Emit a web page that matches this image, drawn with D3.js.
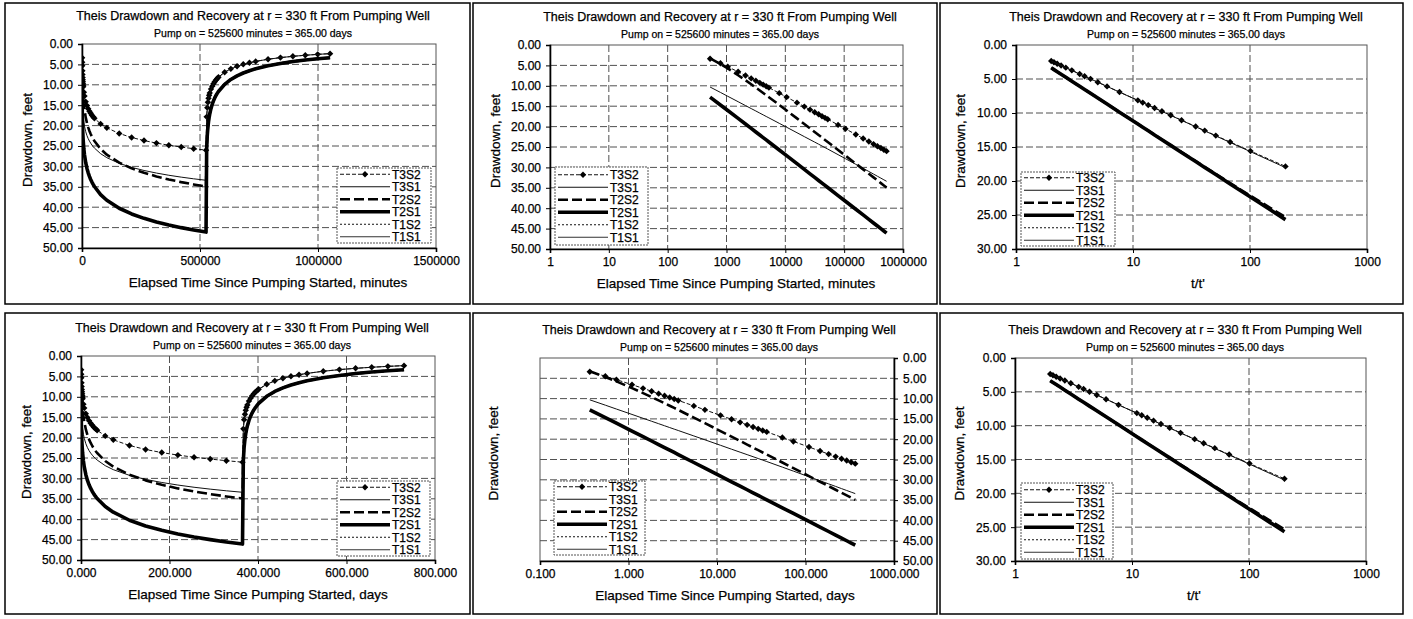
<!DOCTYPE html>
<html><head><meta charset="utf-8">
<script src="https://cdn.jsdelivr.net/npm/d3@7"></script>
<style>
body{margin:0;background:#fff}
svg{display:block}
text{font-family:"Liberation Sans",Arial,sans-serif;fill:#000;stroke:#000;stroke-width:0.25px}
</style>
</head><body>
<svg id="c" width="1413" height="619"></svg>
<script>
// ---------------- data ----------------
const PUMP_MINUTES = 525600;
const titleText = "Theis Drawdown and Recovery at r = 330 ft From Pumping Well";
const subtitleText = "Pump on = 525600 minutes = 365.00 days";
const seriesNames = ["T3S2", "T3S1", "T2S2", "T2S1", "T1S2", "T1S1"];

const pumpMinutes = [525.6, 788.4, 1051.2, 1576.8, 2102.4, 2628, 3153.6, 3679.2, 4204.8, 4730.4, 5256,
  7884, 10512, 15768, 21024, 26280, 31536, 36792, 42048, 47304, 52560, 78840, 105120, 157680,
  210240, 262800, 315360, 367920, 420480, 473040, 525600];
const recoveryMinutes = [528228, 530856, 533484, 536112, 538740, 541368, 546624, 551880, 557136,
  562392, 567648, 572904, 578160, 604440, 630720, 657000, 683280, 709560, 735840, 788400, 840960,
  893520, 946080, 998640, 1051200];

const T3S2_pump = [3.38, 4.49, 5.33, 6.57, 7.47, 8.19, 8.78, 9.28, 9.72, 10.11, 10.45, 11.80, 12.77, 14.13,
  15.10, 15.85, 16.47, 16.99, 17.45, 17.85, 18.20, 19.58, 20.55, 21.93, 22.91, 23.67, 24.29, 24.81, 25.26, 25.66, 26.02];
const T3S2_rec = [17.85, 15.60, 14.27, 13.32, 12.59, 11.99, 11.06, 10.33, 9.75, 9.26, 8.84, 8.47, 8.14,
  6.92, 6.09, 5.47, 4.98, 4.59, 4.26, 3.73, 3.33, 3.02, 2.76, 2.54, 2.36];
const T3S1_pump = [10.30, 11.62, 12.57, 13.90, 14.85, 15.58, 16.18, 16.69, 17.13, 17.52, 17.86, 19.20, 20.15,
  21.50, 22.46, 23.20, 23.80, 24.31, 24.76, 25.15, 25.50, 26.88, 27.86, 29.25, 30.24, 31.00, 31.63, 32.17, 32.63, 33.04, 33.40];
const T3S1_rec = [18.03, 15.69, 14.33, 13.37, 12.63, 12.02, 11.08, 10.35, 9.76, 9.27, 8.85, 8.48, 8.15,
  6.93, 6.09, 5.47, 4.99, 4.59, 4.26, 3.74, 3.34, 3.02, 2.76, 2.54, 2.36];
const T2S2_pump = [3.26, 4.66, 5.75, 7.41, 8.64, 9.63, 10.45, 11.15, 11.76, 12.30, 12.79, 14.69, 16.05, 17.99,
  19.37, 20.44, 21.32, 22.06, 22.70, 23.27, 23.78, 25.74, 27.13, 29.09, 30.49, 31.57, 32.45, 33.20, 33.85, 34.42, 34.93];
const T2S2_rec = [25.32, 22.18, 20.31, 18.97, 17.93, 17.09, 15.75, 14.73, 13.90, 13.20, 12.60, 12.08, 11.61,
  9.87, 8.68, 7.80, 7.11, 6.54, 6.07, 5.33, 4.76, 4.30, 3.93, 3.62, 3.36];
const T2S1_pump = [12.79, 14.69, 16.05, 17.99, 19.37, 20.44, 21.32, 22.06, 22.70, 23.27, 23.78, 25.74, 27.13,
  29.09, 30.49, 31.57, 32.45, 33.20, 33.85, 34.42, 34.93, 36.90, 38.29, 40.26, 41.65, 42.73, 43.62, 44.37, 45.01, 45.58, 46.10];
const T2S1_rec = [25.68, 22.36, 20.43, 19.06, 18.00, 17.14, 15.80, 14.76, 13.93, 13.22, 12.62, 12.10, 11.63,
  9.88, 8.69, 7.81, 7.11, 6.55, 6.08, 5.33, 4.76, 4.30, 3.93, 3.62, 3.36];
const T1S2_pump = [], T1S2_rec = [], T1S1_pump = [], T1S1_rec = [];

const drawdownTicks50 = [0, 5, 10, 15, 20, 25, 30, 35, 40, 45, 50];
const drawdownTicks30 = [0, 5, 10, 15, 20, 25, 30];
const minuteLinTicks = [0, 500000, 1000000, 1500000];
const minuteLogTicks = [1, 10, 100, 1000, 10000, 100000, 1000000];
const ratioTicks = [1, 10, 100, 1000];
const dayLinTicks = [0, 200, 400, 600, 800];
const dayLogTicks = [0.1, 1, 10, 100, 1000];

// ---------------- build tables ----------------
const pumpTable = {T3S2: T3S2_pump, T3S1: T3S1_pump, T2S2: T2S2_pump, T2S1: T2S1_pump, T1S2: T1S2_pump, T1S1: T1S1_pump};
const recTable = {T3S2: T3S2_rec, T3S1: T3S1_rec, T2S2: T2S2_rec, T2S1: T2S1_rec, T1S2: T1S2_rec, T1S1: T1S1_rec};

function seriesPoints(name, mode, unit) {
  const conv = unit === "day" ? (m => m / 1440) : (m => m);
  const p = pumpTable[name].map((v, i) => ({x: conv(pumpMinutes[i]), y: v}));
  const r = recTable[name].map((v, i) => ({x: conv(recoveryMinutes[i]), y: v}));
  if (mode === "all") return p.concat(r);
  if (mode === "pump") return p;
  return recTable[name].map((v, i) => ({x: recoveryMinutes[i] / (recoveryMinutes[i] - PUMP_MINUTES), y: v}))
    .sort((a, b) => a.x - b.x);
}

const styles = {
  T3S2: {w: 1, dash: "4,2", color: "#111", marker: true},
  T3S1: {w: 1, dash: null, color: "#111"},
  T2S2: {w: 2.6, dash: "10,4", color: "#000"},
  T2S1: {w: 3.6, dash: null, color: "#000"},
  T1S2: {w: 1, dash: "2,2", color: "#111"},
  T1S1: {w: 1, dash: null, color: "#333"}
};

const panels = [
  {frame: [5, 3, 470, 304], plot: [82, 44, 436, 248], xType: "lin", xDomain: [0, 1500000], xTicks: minuteLinTicks,
   xFmt: d => String(d), unit: "min", mode: "all", xTitle: "Elapsed Time Since Pumping Started, minutes", xTitleX: 268,
   titleX: 253, yMax: 50, yTicks: drawdownTicks50, ySide: "left", yTitleX: 27, legend: [337, 168, 431, 243]},
  {frame: [473, 3, 937, 304], plot: [550, 45, 903, 249], xType: "log", xDomain: [1, 1000000], xTicks: minuteLogTicks,
   xFmt: d => String(d), unit: "min", mode: "pump", xTitle: "Elapsed Time Since Pumping Started, minutes", xTitleX: 736,
   titleX: 720, yMax: 50, yTicks: drawdownTicks50, ySide: "left", yTitleX: 495, legend: [555, 167, 648, 245]},
  {frame: [940, 3, 1403, 304], plot: [1016, 45, 1367, 249], xType: "log", xDomain: [1, 1000], xTicks: ratioTicks,
   xFmt: d => String(d), unit: "min", mode: "ratio", xTitle: "t/t'", xTitleX: 1198,
   titleX: 1186, yMax: 30, yTicks: drawdownTicks30, ySide: "left", yTitleX: 960, legend: [1021, 172, 1115, 246]},
  {frame: [5, 313, 470, 614], plot: [81, 356, 435, 560], xType: "lin", xDomain: [0, 800], xTicks: dayLinTicks,
   xFmt: d => d3.format(".3f")(d), unit: "day", mode: "all", xTitle: "Elapsed Time Since Pumping Started, days", xTitleX: 258,
   titleX: 252, yMax: 50, yTicks: drawdownTicks50, ySide: "left", yTitleX: 26, legend: [337, 481, 430, 556]},
  {frame: [473, 313, 937, 614], plot: [540, 358, 894, 561], xType: "log", xDomain: [0.1, 1000], xTicks: dayLogTicks,
   xFmt: d => d3.format(".3f")(d), unit: "day", mode: "pump", xTitle: "Elapsed Time Since Pumping Started, days", xTitleX: 725,
   titleX: 719, yMax: 50, yTicks: drawdownTicks50, ySide: "right", yTitleX: 493, legend: [554, 481, 645, 555]},
  {frame: [940, 313, 1403, 614], plot: [1015, 358, 1366, 561], xType: "log", xDomain: [1, 1000], xTicks: ratioTicks,
   xFmt: d => String(d), unit: "min", mode: "ratio", xTitle: "t/t'", xTitleX: 1194,
   titleX: 1185, yMax: 30, yTicks: drawdownTicks30, ySide: "left", yTitleX: 959, legend: [1021, 483, 1113, 559]}
];

const svg = d3.select("#c");
const defs = svg.append("defs");
const fmtY = d3.format(".2f");
const diamond = "M0,-3.2L3.2,0L0,3.2L-3.2,0Z";

panels.forEach((P, pi) => {
  const [fx0, fy0, fx1, fy1] = P.frame;
  const [px0, py0, px1, py1] = P.plot;
  const g = svg.append("g");
  g.append("rect").attr("x", fx0).attr("y", fy0).attr("width", fx1 - fx0).attr("height", fy1 - fy0)
    .attr("fill", "#fff").attr("stroke", "#000").attr("stroke-width", 1.5);

  const x = (P.xType === "log" ? d3.scaleLog() : d3.scaleLinear()).domain(P.xDomain).range([px0, px1]);
  const y = d3.scaleLinear().domain([0, P.yMax]).range([py0, py1]);

  g.append("text").attr("x", P.titleX).attr("y", py0 - 24.5).attr("text-anchor", "middle")
    .attr("font-size", 12.5).text(titleText);
  g.append("text").attr("x", P.titleX).attr("y", py0 - 7.5).attr("text-anchor", "middle")
    .attr("font-size", 10.5).text(subtitleText);

  const grid = g.append("g").attr("stroke", "#333").attr("stroke-width", 1).attr("stroke-dasharray", "7,3").attr("opacity", 0.85);
  P.yTicks.filter(t => t > 0 && t < P.yMax).forEach(t => {
    grid.append("line").attr("x1", px0).attr("x2", px1).attr("y1", y(t)).attr("y2", y(t));
  });
  P.xTicks.filter(t => t > P.xDomain[0] && t < P.xDomain[1]).forEach(t => {
    grid.append("line").attr("x1", x(t)).attr("x2", x(t)).attr("y1", py0).attr("y2", py1);
  });

  g.append("rect").attr("x", px0).attr("y", py0).attr("width", px1 - px0).attr("height", py1 - py0)
    .attr("fill", "none").attr("stroke", "#555").attr("stroke-width", 1);

  const xAxis = d3.axisBottom(x).tickValues(P.xTicks).tickFormat(P.xFmt).tickSize(4).tickPadding(4);
  const xa = g.append("g").attr("transform", `translate(0,${py1})`).call(xAxis);
  const yAxis = (P.ySide === "right" ? d3.axisRight(y) : d3.axisLeft(y)).tickValues(P.yTicks).tickFormat(fmtY).tickSize(4).tickPadding(5);
  const ya = g.append("g").attr("transform", `translate(${P.ySide === "right" ? px1 : px0},0)`).call(yAxis);
  [xa, ya].forEach(a => {
    a.selectAll("text").attr("font-size", 12).attr("font-family", "Liberation Sans, Arial, sans-serif").attr("fill", "#000");
    a.selectAll("line").attr("stroke", "#000");
    a.select(".domain").attr("stroke", "#000").attr("stroke-width", 1.6);
  });

  g.append("text").attr("x", P.xTitleX).attr("y", py1 + 39).attr("text-anchor", "middle")
    .attr("font-size", 13.5).text(P.xTitle);
  g.append("text").attr("transform", `translate(${P.yTitleX + 5},${(py0 + py1) / 2 - 6}) rotate(-90)`)
    .attr("text-anchor", "middle").attr("font-size", 13.5).text("Drawdown, feet");

  const cid = "clip" + pi;
  defs.append("clipPath").attr("id", cid).append("rect")
    .attr("x", px0).attr("y", py0 - 4).attr("width", px1 - px0).attr("height", py1 - py0 + 4);
  const layer = g.append("g").attr("clip-path", `url(#${cid})`);

  const line = d3.line().x(d => x(d.x)).y(d => y(d.y));
  seriesNames.forEach(name => {
    const pts = seriesPoints(name, P.mode, P.unit);
    if (!pts.length) return;
    const s = styles[name];
    layer.append("path").attr("d", line(pts)).attr("fill", "none")
      .attr("stroke", s.color).attr("stroke-width", s.w)
      .attr("stroke-dasharray", s.dash).attr("stroke-linejoin", "round");
    if (s.marker) {
      layer.selectAll(null).data(pts).enter().append("path")
        .attr("d", diamond).attr("transform", d => `translate(${x(d.x)},${y(d.y)})`)
        .attr("fill", "#000");
    }
  });

  const [lx0, ly0, lx1, ly1] = P.legend;
  const lg = g.append("g");
  lg.append("rect").attr("x", lx0).attr("y", ly0).attr("width", lx1 - lx0).attr("height", ly1 - ly0)
    .attr("fill", "#fff").attr("stroke", "#555").attr("stroke-width", 1).attr("stroke-dasharray", "2,1");
  const step = 12.5;
  const first = ly0 + (ly1 - ly0 - step * 5) / 2;
  seriesNames.forEach((name, i) => {
    const s = styles[name];
    const yy = first + i * step;
    lg.append("line").attr("x1", lx0 + 3).attr("x2", lx0 + 53).attr("y1", yy).attr("y2", yy)
      .attr("stroke", s.color).attr("stroke-width", s.w).attr("stroke-dasharray", s.dash);
    if (s.marker) lg.append("path").attr("d", diamond).attr("transform", `translate(${lx0 + 28},${yy})`).attr("fill", "#000");
    lg.append("text").attr("x", lx0 + 55).attr("y", yy + 4.3).attr("font-size", 12).text(name);
  });
});
</script>
</body></html>
